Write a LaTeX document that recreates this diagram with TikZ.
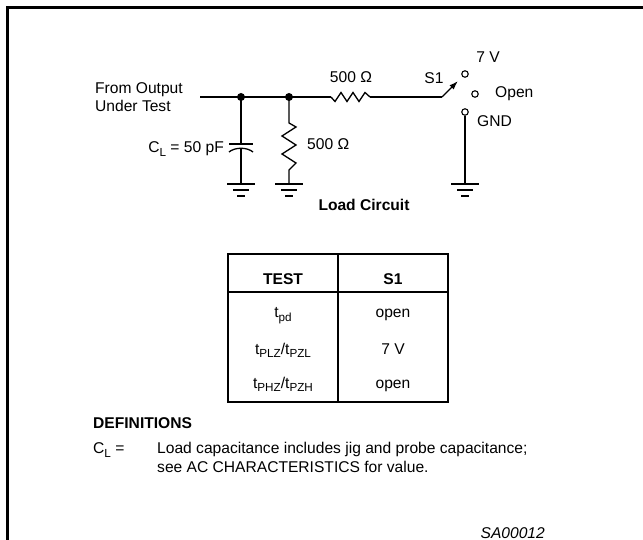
\documentclass[tikz,border=0pt]{standalone}
\usepackage{fontspec}
\setmainfont{Liberation Sans}
\usetikzlibrary{calc, arrows.meta}
\newcommand{\gndmark}[1]{%
    \draw[wire] ($(#1) + (-14, 0)$) -- ($(#1) + (14, 0)$);
    \draw[wire] ($(#1) + (-8, 6)$) -- ($(#1) + (8, 6)$);
    \draw[wire] ($(#1) + (-4, 12)$) -- ($(#1) + (4, 12)$);
}
\newcommand{\sub}[1]{\raisebox{-3.5pt}{\fontsize{11.7}{12}\selectfont #1}}
\tikzset{
    wire/.style = {black, line width = 1.3pt},
    contact/.style = {circle, draw = black, line width = 1.1pt, fill = white, inner sep = 0pt, minimum size = 6.5pt},
    lbl/.style = {inner sep = 0pt, anchor = base},
}

\begin{document}
\begin{tikzpicture}[x = 1pt, y = -1pt, font = \fontsize{15.6}{18}\selectfont]
            \useasboundingbox (0, 0) rectangle (643, 540);
            \draw[black, line width = 2.8pt] (643, 7.5) -- (7.5, 7.5) -- (7.5, 540);

            \coordinate (input) at (200, 97);
            \coordinate (nodeC) at (241, 97);
            \coordinate (nodeR) at (289, 97);
            \coordinate (resA) at (331, 97);
            \coordinate (resB) at (370, 97);
            \coordinate (pivot) at (442, 97);
            \coordinate (tip) at (458, 81);
            \coordinate (capTop) at (241, 144);
            \coordinate (capBot) at (241, 148.3);
            \coordinate (gndC) at (241, 184);
            \coordinate (resC) at (289, 123);
            \coordinate (resD) at (289, 170);
            \coordinate (gndR) at (289, 184);
            \coordinate (gndS) at (465, 184);

            \draw[wire] (input) -- (nodeC) -- (nodeR) -- (resA);
            \draw[wire] (resA) -- (335, 101.5) -- (341, 92.5) -- (347, 101.5) -- (353, 92.5) -- (359, 101.5) -- (365, 92.5) -- (resB);
            \draw[wire] (resB) -- (pivot);
            \draw[wire, -{Latex[length = 9pt, width = 6pt]}] (pivot) -- (tip);

            \draw[wire] (nodeC) -- (capTop);
            \draw[wire] (229, 144) -- (253, 144);
            \draw[wire] (229, 152) .. controls (235, 147) and (247, 147) .. (253, 152);
            \draw[wire] (capBot) -- (gndC);
            \gndmark{gndC}

            \draw[wire] (nodeR) -- (resC) -- (296, 127) -- (282, 136) -- (296, 145) -- (282, 154) -- (296, 163) -- (resD) -- (gndR);
            \gndmark{gndR}

            \fill[black] (nodeC) circle (4);
            \fill[black] (nodeR) circle (4);

            \node[contact] (sw7) at (465, 74) {};
            \node[contact] (swOpen) at (475, 94) {};
            \node[contact] (swGnd) at (465, 112) {};
            \draw[wire] (swGnd.south) -- (gndS);
            \gndmark{gndS}

            \node[lbl, anchor = base west] (fromLbl) at (95, 93.5) {From Output};
            \node[lbl, anchor = base west] (underLbl) at (95, 111.5) {Under Test};
            \node[lbl, anchor = base east] (capLbl) at (224, 153) {C\sub{L} = 50 pF};
            \node[lbl, anchor = base west] (resVLbl) at (307, 150) {500 Ω};
            \node[lbl] (resHLbl) at (351, 83) {500 Ω};
            \node[lbl] (swLbl) at (434, 84) {S1};
            \node[lbl] (sevenLbl) at (488, 63) {7 V};
            \node[lbl, anchor = base west] (openLbl) at (495, 98) {Open};
            \node[lbl, anchor = base west] (gndLbl) at (477, 127) {GND};
            \node[lbl] (titleLbl) at (364, 211) {\bfseries Load Circuit};

            \draw[wire] (228, 254) rectangle (448, 402);
            \draw[wire] (228, 292) -- (448, 292);
            \draw[wire] (338, 254) -- (338, 402);
            \node[lbl] (hdTest) at (283, 285) {\bfseries TEST};
            \node[lbl] (hdSwitch) at (393, 285) {\bfseries S1};
            \node[lbl] (testA) at (283, 318) {t\sub{pd}};
            \node[lbl] (testB) at (283, 354) {t\sub{PLZ}/t\sub{PZL}};
            \node[lbl] (testC) at (283, 388) {t\sub{PHZ}/t\sub{PZH}};
            \node[lbl] (swA) at (393, 318) {open};
            \node[lbl] (swB) at (393, 354) {7 V};
            \node[lbl] (swC) at (393, 388) {open};

            \node[lbl, anchor = base west] (defHead) at (93, 428) {\bfseries DEFINITIONS};
            \node[lbl, anchor = base west] (defTerm) at (93, 453.5) {C\sub{L} =};
            \node[lbl, anchor = base west] (defLineA) at (157, 453.5) {Load capacitance includes jig and probe capacitance;};
            \node[lbl, anchor = base west] (defLineB) at (157, 472) {see AC CHARACTERISTICS for value.};
            \node[lbl, anchor = base east] (figId) at (545, 538) {\itshape SA00012};

        \end{tikzpicture}
\end{document}
